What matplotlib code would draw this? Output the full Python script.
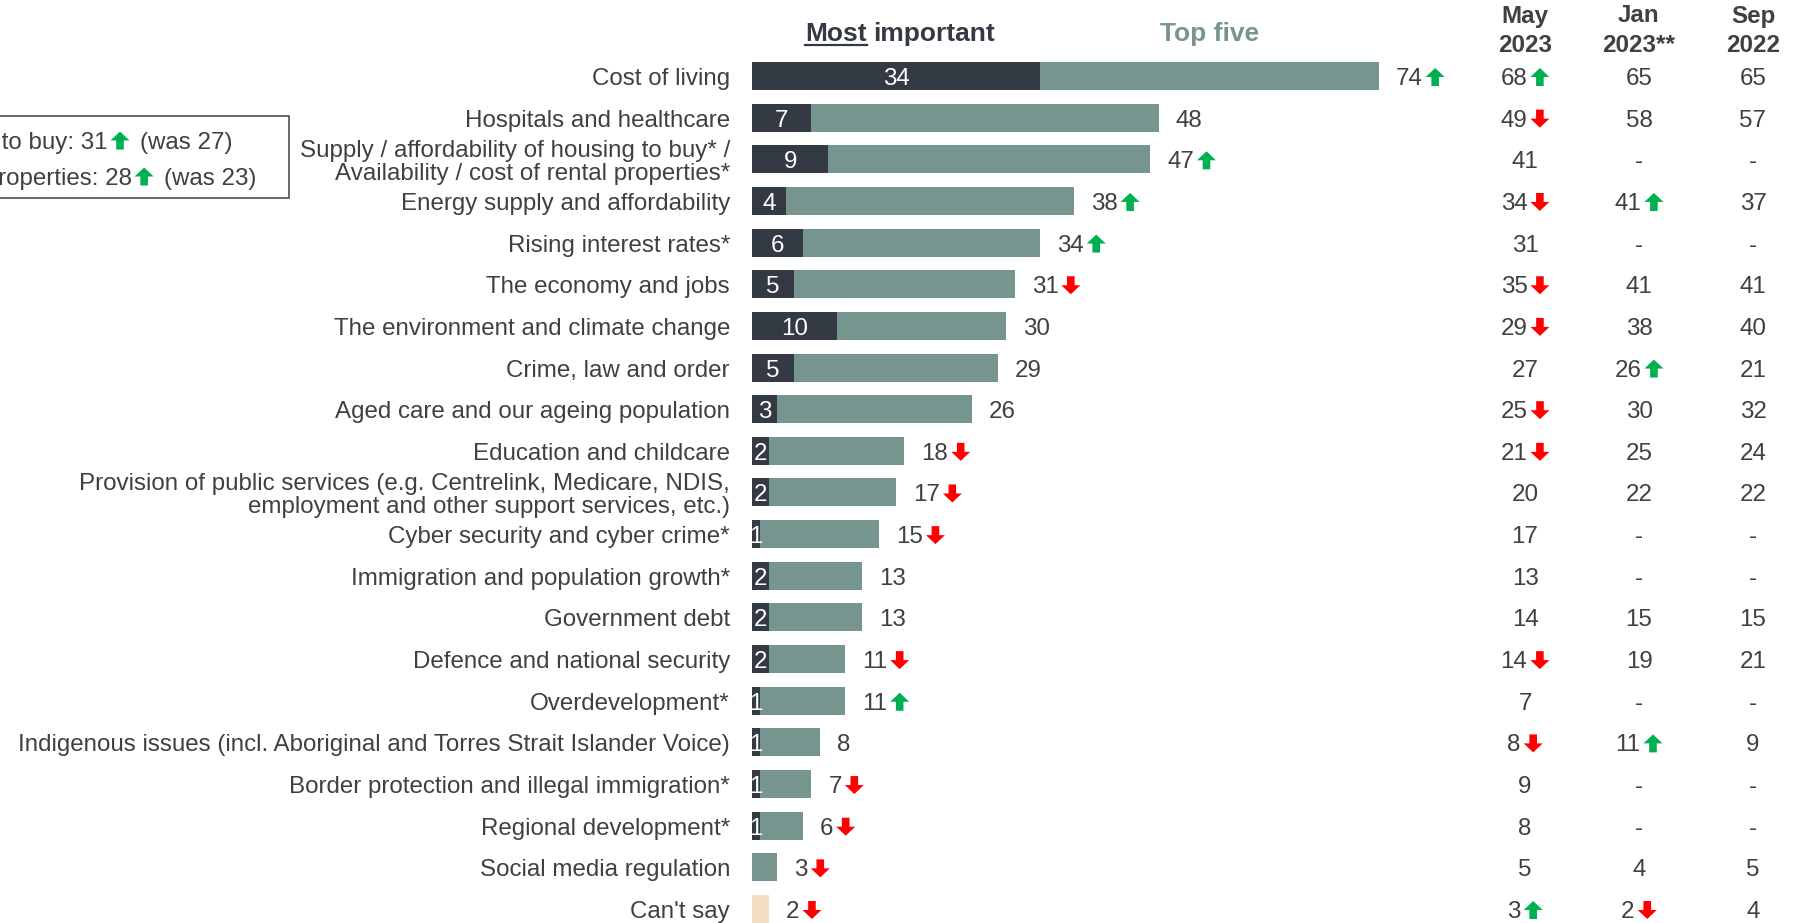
import numpy as np
import matplotlib
matplotlib.use("Agg")
import matplotlib.pyplot as plt
from matplotlib.patches import Polygon, Rectangle
from matplotlib.lines import Line2D
from matplotlib.transforms import IdentityTransform

plt.rcParams["font.family"] = ["Liberation Sans", "DejaVu Sans"]

# ---------------- data ----------------
CATEGORIES = [
    "Cost of living",
    "Hospitals and healthcare",
    "Supply / affordability of housing to buy* /\nAvailability / cost of rental properties*",
    "Energy supply and affordability",
    "Rising interest rates*",
    "The economy and jobs",
    "The environment and climate change",
    "Crime, law and order",
    "Aged care and our ageing population",
    "Education and childcare",
    "Provision of public services (e.g. Centrelink, Medicare, NDIS,\nemployment and other support services, etc.)",
    "Cyber security and cyber crime*",
    "Immigration and population growth*",
    "Government debt",
    "Defence and national security",
    "Overdevelopment*",
    "Indigenous issues (incl. Aboriginal and Torres Strait Islander Voice)",
    "Border protection and illegal immigration*",
    "Regional development*",
    "Social media regulation",
    "Can't say",
]
MOST = [34, 7, 9, 4, 6, 5, 10, 5, 3, 2, 2, 1, 2, 2, 2, 1, 1, 1, 1, 0, 0]
TOP5 = [74, 48, 47, 38, 34, 31, 30, 29, 26, 18, 17, 15, 13, 13, 11, 11, 8, 7, 6, 3, 2]
TOP5_TREND = ["up", None, "up", "up", "up", "down", None, None, None, "down", "down",
              "down", None, None, "down", "up", None, "down", "down", "down", "down"]

PERIODS = [("May", "2023"), ("Jan", "2023**"), ("Sep", "2022")]
MAY23 = ["68", "49", "41", "34", "31", "35", "29", "27", "25", "21", "20",
         "17", "13", "14", "14", "7", "8", "9", "8", "5", "3"]
MAY23_TREND = ["up", "down", None, "down", None, "down", "down", None, "down", "down", None,
               None, None, None, "down", None, "down", None, None, None, "up"]
JAN23 = ["65", "58", "-", "41", "-", "41", "38", "26", "30", "25", "22",
         "-", "-", "15", "19", "-", "11", "-", "-", "4", "2"]
JAN23_TREND = [None, None, None, "up", None, None, None, "up", None, None, None,
               None, None, None, None, None, "up", None, None, None, "down"]
SEP22 = ["65", "57", "-", "37", "-", "41", "40", "21", "32", "24", "22",
         "-", "-", "15", "21", "-", "9", "-", "-", "5", "4"]
SEP22_TREND = [None] * len(SEP22)

BOX_LINES = [
    ("Supply / affordability of housing to buy: 31", "up", "(was 27)"),
    ("Availability / cost of rental properties: 28", "up", "(was 23)"),
]

# ---------------- style ----------------
W, H = 1800, 923
DARK = "#343a43"
TEAL = "#76958f"
BEIGE = "#f5dfc3"
TXT = "#404040"
GREEN = "#00b050"
RED = "#ff0000"
FS = 17.4
X0 = 752            # pixel of value 0
PX_PER_UNIT = 8.47
Y0, ROW = 76, 41.65  # first row centre, row pitch (px from top)
BAR_H = 28 / ROW
AW, AH = 19, 18      # arrow size in px
DY_TXT = -3          # text sits a touch below the bar centre
DY_ARR = -1

fig = plt.figure(figsize=(W / 100, H / 100), dpi=100)
ax = fig.add_axes([X0 / W, 0, (W - X0) / W, 1])
ax.set_xlim(0, (W - X0) / PX_PER_UNIT)
ax.set_ylim((H - Y0) / ROW, -Y0 / ROW)
ax.axis("off")

rows = np.arange(len(CATEGORIES))
top_colors = [TEAL] * (len(rows) - 1) + [BEIGE]
ax.barh(rows, TOP5, height=BAR_H, color=top_colors)
ax.barh(rows, MOST, height=BAR_H, color=DARK)

renderer = fig.canvas.get_renderer()
ident = IdentityTransform()


def text_width(s, **kw):
    t = fig.text(0, 0, s, transform=ident, **kw)
    w = t.get_window_extent(renderer).width
    t.remove()
    return w


def arrow(x, yc, kind):
    up = [(0, 0.5), (0.5, 0.0), (0.2, 0.0), (0.2, -0.5), (-0.2, -0.5), (-0.2, 0.0), (-0.5, 0.0)]
    sign = 1 if kind == "up" else -1
    yc = yc + DY_ARR
    pts = [(x + AW / 2 + vx * AW, yc + sign * vy * AH) for vx, vy in up]
    fig.add_artist(Polygon(pts, closed=True, transform=ident, lw=0,
                           facecolor=GREEN if kind == "up" else RED))


def inline(x, yc, pieces, ha="left", **kw):
    """lay out text pieces, arrows and pixel gaps on one line (display px)"""
    kw.setdefault("fontsize", FS)
    kw.setdefault("color", TXT)
    widths = []
    for p in pieces:
        if isinstance(p, (int, float)):
            widths.append(p)
        elif p in ("up", "down"):
            widths.append(AW)
        else:
            widths.append(text_width(p, **kw))
    total = sum(widths)
    x = {"left": x, "center": x - total / 2, "right": x - total}[ha]
    out = []
    for p, w in zip(pieces, widths):
        if isinstance(p, (int, float)):
            pass
        elif p in ("up", "down"):
            arrow(x, yc, p)
        else:
            out.append(fig.text(x, yc + DY_TXT, p, transform=ident, ha="left",
                                va="center", **kw))
        x += w
    return out


def with_trend(num, trend):
    return [num] if trend is None else [num, 3, trend]


# category labels
for i, cat in enumerate(CATEGORIES):
    _, yc = ax.transData.transform((0, i))
    fig.text(730, yc + DY_TXT, cat, transform=ident, ha="right", va="center",
             fontsize=FS, color=TXT, linespacing=1.05)

# values inside the dark segment
for i, m in enumerate(MOST):
    if m <= 0:
        continue
    xc, yc = ax.transData.transform((m / 2, i))
    fig.text(xc, yc + DY_TXT, str(m), transform=ident, ha="center", va="center",
             fontsize=FS, color="white")

# top five values with trend arrows
for i, (v, tr) in enumerate(zip(TOP5, TOP5_TREND)):
    xe, yc = ax.transData.transform((v, i))
    inline(xe + 17, yc, with_trend(str(v), tr))

# previous waves
COL_X = [1525, 1639, 1753]
for cx, vals, trends in zip(COL_X, [MAY23, JAN23, SEP22], [MAY23_TREND, JAN23_TREND, SEP22_TREND]):
    for i, (v, tr) in enumerate(zip(vals, trends)):
        _, yc = ax.transData.transform((0, i))
        inline(cx, yc, with_trend(v, tr), ha="center")

# column headers
for cx, (mon, yr) in zip(COL_X, PERIODS):
    fig.text(cx, H - 16, mon, transform=ident, ha="center", va="center",
             fontsize=FS, fontweight="bold", color=TXT)
    fig.text(cx, H - 45, yr, transform=ident, ha="center", va="center",
             fontsize=FS, fontweight="bold", color=TXT)

# bar legend headers
t_most, t_imp = inline(900, H - 31, ["Most", 6, "important"], ha="center",
                       fontsize=19, fontweight="bold", color=DARK)
bb = t_most.get_window_extent(renderer)
fig.add_artist(Line2D([bb.x0, bb.x1], [H - 45, H - 45], transform=ident, color=DARK, lw=1.6))
inline(1210, H - 31, ["Top five"], ha="center", fontsize=19, fontweight="bold", color=TEAL)

# housing split box (runs off the left edge)
fig.add_artist(Rectangle((-10, H - 198), 299, 82, transform=ident, fill=False,
                         edgecolor=TXT, lw=1.1))
for (head, tr, tail), xr, yc in zip(BOX_LINES, [232, 256], [H - 139.5, H - 175.5]):
    inline(xr, yc, [head, 3, tr, 10, tail], ha="right")

fig.savefig("out.png", dpi=100)
